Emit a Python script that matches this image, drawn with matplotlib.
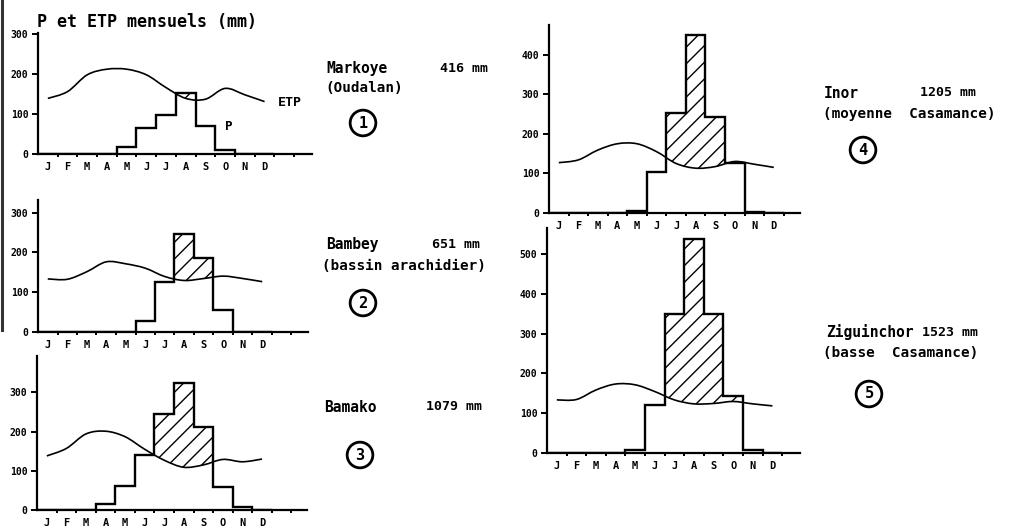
import numpy as np
import matplotlib
matplotlib.use("Agg")
import matplotlib.pyplot as plt
from matplotlib.path import Path
from matplotlib.patches import PathPatch
from matplotlib.lines import Line2D

# month letters on the x axis
MONTHS = ["J", "F", "M", "A", "M", "J", "J", "A", "S", "O", "N", "D"]

# monthly rainfall P (mm)
markoye_p = [0, 0, 0, 0, 18, 64, 97, 153, 70, 10, 0, 0]
bambey_p = [0, 0, 0, 0, 0, 28, 124, 246, 185, 55, 0, 0]
bamako_p = [0, 0, 0, 15, 62, 140, 244, 325, 211, 59, 8, 0]
inor_p = [0, 0, 0, 0, 4, 104, 253, 452, 242, 125, 3, 0]
ziguinchor_p = [0, 0, 0, 0, 7, 120, 349, 539, 349, 143, 7, 0]

# monthly potential evapotranspiration ETP (mm)
markoye_etp = [139, 156, 198, 212, 212, 198, 166, 139, 137, 164, 148, 131]
bambey_etp = [133, 132, 151, 176, 171, 160, 139, 129, 134, 140, 134, 126]
bamako_etp = [138, 157, 194, 201, 187, 155, 127, 109, 115, 129, 123, 130]
inor_etp = [127, 134, 159, 175, 175, 155, 125, 113, 117, 130, 123, 115]
ziguinchor_etp = [133, 134, 158, 173, 171, 154, 133, 123, 124, 129, 123, 118]

# station captions
names = ["Markoye", "Bambey", "Bamako", "Inor", "Ziguinchor"]
totals = ["416 mm", "651 mm", "1079 mm", "1205 mm", "1523 mm"]
regions = ["(Oudalan)", "(bassin arachidier)", "", "(moyenne  Casamance)", "(basse  Casamance)"]
numbers = ["1", "2", "3", "4", "5"]

rain = [markoye_p, bambey_p, bamako_p, inor_p, ziguinchor_p]
etp = [markoye_etp, bambey_etp, bamako_etp, inor_etp, ziguinchor_etp]

FW, FH = 1009, 531
fig = plt.figure(figsize=(FW / 100, FH / 100), dpi=100)
fig.patch.set_facecolor("white")

# layout in pixels: left, x-axis row, axis top, right end, px per month, px per 100 mm
layout = [
    (38, 154.0, 33, 312, 19.7, 40.0),
    (38, 331.7, 200, 308, 19.5, 39.7),
    (37, 510.0, 356, 307, 19.57, 39.2),
    (549, 212.7, 25, 800, 19.55, 39.4),
    (547, 452.7, 228, 800, 19.6, 39.7),
]
# caption positions (pixels): name, total, region line, circle
captions = [
    ((326, 69), (440, 69), (325, 88), (363, 123)),
    ((326, 245), (432, 245), (322, 266), (363, 303)),
    ((324, 407), (426, 407), None, (360, 455)),
    ((824, 93), (920, 93), (823, 114), (863, 150)),
    ((826, 332), (922, 332), (823, 353), (869, 394)),
]

HAND = "DejaVu Sans Mono"


def smooth_path(x, y):
    # Catmull-Rom through the monthly points, drawn as cubic Bezier segments
    pts = np.column_stack([x, y]).astype(float)
    n = len(pts)
    verts = [pts[0]]
    codes = [Path.MOVETO]
    for i in range(n - 1):
        p0 = pts[max(i - 1, 0)]
        p1 = pts[i]
        p2 = pts[i + 1]
        p3 = pts[min(i + 2, n - 1)]
        verts += [p1 + (p2 - p0) / 6.0, p2 - (p3 - p1) / 6.0, p2]
        codes += [Path.CURVE4] * 3
    return verts, codes


def px(x, y):
    return x / FW, 1 - y / FH


for k in range(5):
    left, xrow, top, right, wm, h100 = layout[k]
    ax = fig.add_axes([left / FW, (FH - xrow) / FH, (right - left) / FW, (xrow - top) / FH])
    ax.set_xlim(0, (right - left) / wm)
    ax.set_ylim(0, (xrow - top) / h100 * 100)
    ax.patch.set_alpha(0)
    for s in ["top", "right"]:
        ax.spines[s].set_visible(False)
    for s in ["left", "bottom"]:
        ax.spines[s].set_linewidth(1.6)

    edges = np.arange(13)
    centers = np.arange(12) + 0.5

    # ETP curve
    verts, codes = smooth_path(centers, etp[k])
    ax.add_patch(PathPatch(Path(verts, codes), facecolor="none", edgecolor="black", lw=1.2))

    # hatched surplus: P above ETP
    clip_verts = verts + [(centers[-1], 5000), (centers[0], 5000), (centers[0], etp[k][0])]
    clip_codes = codes + [Path.LINETO, Path.LINETO, Path.CLOSEPOLY]
    clip = PathPatch(Path(clip_verts, clip_codes), transform=ax.transData)
    hatched = ax.stairs(rain[k], edges, baseline=0, fill=True, facecolor="none",
                        edgecolor="black", hatch="//", linewidth=0)
    hatched.set_clip_path(clip)

    # rainfall steps
    ax.stairs(rain[k], edges, baseline=0, color="black", lw=1.7)

    ymax = ax.get_ylim()[1]
    yt = np.arange(0, ymax, 100)
    ax.set_yticks(yt)
    ax.set_yticklabels([str(int(v)) for v in yt], fontsize=7, fontweight="bold", family=HAND)
    ax.tick_params(axis="y", direction="out", length=4, width=1.4, pad=3)

    ax.set_xticks(centers)
    ax.set_xticklabels(MONTHS, fontsize=7.5, fontweight="bold", family=HAND)
    ax.tick_params(axis="x", which="major", length=0, pad=6)
    ax.set_xticks(np.arange(1, int(ax.get_xlim()[1]) + 1), minor=True)
    ax.tick_params(axis="x", which="minor", direction="out", length=2.5, width=1.4)

    if k == 0:
        ax.text(12.2, 130, "ETP", fontsize=9.5, fontweight="bold", family=HAND, va="center")
        ax.text(9.5, 68, "P", fontsize=9, fontweight="bold", family=HAND, va="center")

    name_xy, total_xy, region_xy, circ_xy = captions[k]
    fig.text(*px(*name_xy), names[k], fontsize=10.5, fontweight="bold", family=HAND, va="center")
    fig.text(*px(*total_xy), totals[k], fontsize=9.5, fontweight="bold", family=HAND, va="center")
    if region_xy is not None:
        fig.text(*px(*region_xy), regions[k], fontsize=10.3, fontweight="bold", family=HAND, va="center")
    fig.text(*px(*circ_xy), numbers[k], fontsize=11, fontweight="bold", family=HAND,
             ha="center", va="center",
             bbox=dict(boxstyle="circle,pad=0.35", facecolor="white", edgecolor="black", lw=2))

fig.text(*px(37, 22), "P et ETP mensuels (mm)", fontsize=12, fontweight="bold", family=HAND, va="center")

# dark scan border on the left edge
fig.add_artist(Line2D([1.5 / FW, 1.5 / FW], [1, 1 - 330 / FH], color="#333333", lw=2.2,
                      transform=fig.transFigure))

fig.savefig("out.png", dpi=100)
